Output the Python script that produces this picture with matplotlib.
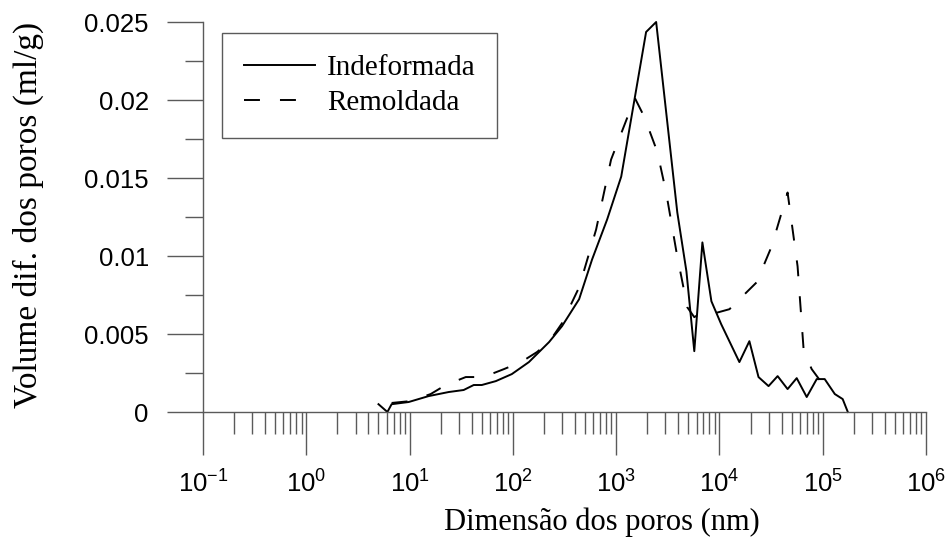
import logging

import matplotlib
matplotlib.use('Agg')
import matplotlib.pyplot as plt
from matplotlib.ticker import FixedLocator, LogLocator, NullFormatter

logger = logging.getLogger(__name__)

# Pore size (nm) and differential volume (ml/g)
size_indeformada = [5.0, 6.1, 6.7, 9.8, 15.3, 23.9, 33.4, 41.8, 50, 68.4,
                    97.7, 143, 224, 299, 438, 585, 818, 1120, 1950, 2440,
                    3910, 4790, 5710, 6840, 8360, 10400, 15600, 19500, 23900, 29900,
                    36600, 45700, 56000, 70000, 87500, 104500, 131000, 156000, 175000]
vol_indeformada = [0.0005, 0.0, 0.0005, 0.00064, 0.00102, 0.00128, 0.00141, 0.00173, 0.00173, 0.00198,
                   0.00243, 0.0032, 0.00448, 0.0055, 0.00723, 0.00978, 0.01234, 0.01509, 0.02436, 0.025,
                   0.01279, 0.00902, 0.0039, 0.01087, 0.0071, 0.00563, 0.0032, 0.00454, 0.00224, 0.00166,
                   0.0023, 0.00147, 0.00217, 0.00096, 0.00211, 0.00211, 0.00115, 0.00083, 0.0]

size_remoldada = [6.7, 10.2, 16, 22.4, 35, 52, 82, 120, 171, 224,
                  299, 438, 640, 893, 1280, 1530, 1870, 2500, 3050, 3830,
                  4890, 5710, 6840, 8360, 12500, 22900, 32000, 45700, 57100, 65500,
                  78200, 100000]
vol_remoldada = [0.00058, 0.0007, 0.00115, 0.00173, 0.00224, 0.00224, 0.00275, 0.0032, 0.00384, 0.00448,
                 0.00569, 0.00799, 0.0117, 0.01618, 0.01886, 0.02008, 0.01893, 0.01669, 0.01407, 0.01029,
                 0.00671, 0.00608, 0.0064, 0.00627, 0.00659, 0.00831, 0.01061, 0.01407, 0.00934, 0.0039,
                 0.00275, 0.00179]

x_tick_values = [0.1, 1, 10, 100, 1000, 10000, 100000, 1000000]
x_tick_labels = [r'$\mathregular{10^{-1}}$', r'$\mathregular{10^{0}}$', r'$\mathregular{10^{1}}$',
                 r'$\mathregular{10^{2}}$', r'$\mathregular{10^{3}}$', r'$\mathregular{10^{4}}$',
                 r'$\mathregular{10^{5}}$', r'$\mathregular{10^{6}}$']
y_tick_values = [0, 0.005, 0.01, 0.015, 0.02, 0.025]
y_tick_labels = ['0', '0.005', '0.01', '0.015', '0.02', '0.025']
y_minor_values = [0.0025, 0.0075, 0.0125, 0.0175, 0.0225]

plt.rcParams['mathtext.fontset'] = 'custom'
plt.rcParams['mathtext.rm'] = 'Liberation Sans'
plt.rcParams['mathtext.it'] = 'Liberation Sans:italic'
plt.rcParams['mathtext.bf'] = 'Liberation Sans:bold'

AXIS_GREY = '#5a5a5a'
SERIF = 'Liberation Serif'
SANS = 'Liberation Sans'


def plot_pore_distribution(save_path: str = 'out.png') -> plt.Figure:
    """Differential pore volume vs pore size for the two soil samples."""
    fig = plt.figure(figsize=(9.47, 5.42), dpi=100)
    ax = fig.add_axes([203 / 947, 1 - 412 / 542, 723 / 947, 390 / 542])

    ax.plot(size_indeformada, vol_indeformada, color='black', lw=1.4,
            label='Indeformada', clip_on=False)
    ax.plot(size_remoldada, vol_remoldada, color='black', lw=1.4,
            dashes=(8.2, 10.3), label='Remoldada', clip_on=False)

    ax.set_xscale('log')
    ax.set_xlim(0.1, 1e6)
    ax.set_ylim(0, 0.025)

    # only left and bottom axis lines, grey like the original
    for side in ('top', 'right'):
        ax.spines[side].set_visible(False)
    for side in ('left', 'bottom'):
        ax.spines[side].set_color(AXIS_GREY)
        ax.spines[side].set_linewidth(1.0)

    ax.set_xticks(x_tick_values)
    ax.set_xticklabels(x_tick_labels)
    ax.xaxis.set_minor_locator(LogLocator(base=10, subs=range(2, 10), numticks=20))
    ax.xaxis.set_minor_formatter(NullFormatter())
    ax.set_yticks(y_tick_values)
    ax.set_yticklabels(y_tick_labels)
    ax.yaxis.set_minor_locator(FixedLocator(y_minor_values))

    ax.tick_params(axis='x', which='major', direction='out', length=31, width=1,
                   color=AXIS_GREY, pad=11, labelsize=18.5)
    ax.tick_params(axis='x', which='minor', direction='out', length=16, width=1,
                   color=AXIS_GREY)
    ax.tick_params(axis='y', which='major', direction='out', length=26, width=1,
                   color=AXIS_GREY, pad=13, labelsize=18.5)
    ax.tick_params(axis='y', which='minor', direction='out', length=13, width=1,
                   color=AXIS_GREY)
    for lbl in ax.get_xticklabels() + ax.get_yticklabels():
        lbl.set_fontfamily(SANS)

    ax.set_xlabel('Dimensão dos poros (nm)', fontsize=22, fontfamily=SERIF)
    ax.xaxis.label.set_va('baseline')
    ax.xaxis.set_label_coords(0.552, -0.3026)
    ax.set_ylabel('Volume dif. dos poros (ml/g)', fontsize=24, fontfamily=SERIF)
    ax.yaxis.label.set_va('baseline')
    ax.yaxis.set_label_coords(-0.2296, 0.505)

    leg = ax.legend(loc='upper left', bbox_to_anchor=(0.026, 0.972), borderaxespad=0,
                    frameon=True, fancybox=False, framealpha=1, edgecolor=AXIS_GREY,
                    prop={'family': SERIF, 'size': 21}, handlelength=2.45,
                    handletextpad=0.4, borderpad=0.75, labelspacing=0.3)
    leg.get_frame().set_linewidth(1.0)

    if save_path:
        try:
            fig.savefig(save_path, dpi=100)
            logger.info(f"Plot saved to {save_path}")
        except Exception as e:
            logger.error(f"Failed to save plot: {str(e)}")
            raise
    return fig


if __name__ == '__main__':
    plot_pore_distribution('out.png')
